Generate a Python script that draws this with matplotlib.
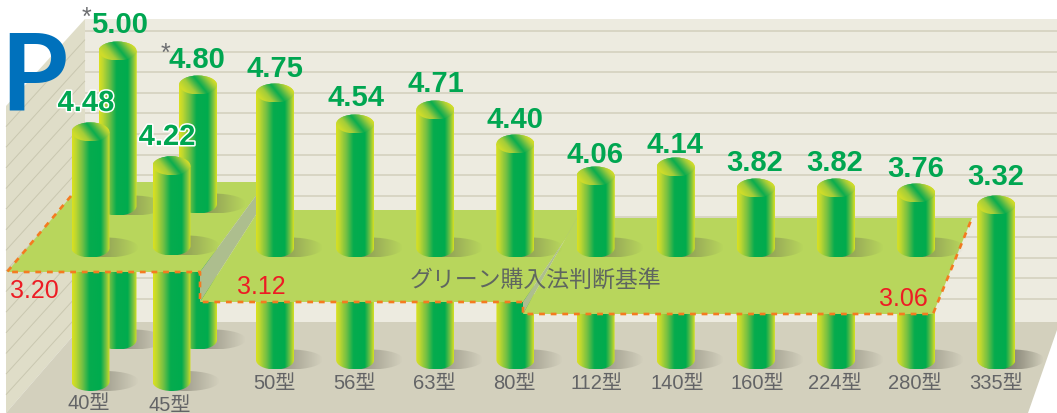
import numpy as np
import matplotlib
matplotlib.use("Agg")
import matplotlib.pyplot as plt
from matplotlib.colors import LinearSegmentedColormap, to_rgb
from matplotlib.patches import Polygon, Ellipse, PathPatch
from matplotlib.path import Path
import matplotlib.patheffects as pe

plt.rcParams['font.family'] = ['Liberation Sans', 'Noto Sans CJK JP', 'DejaVu Sans']

# ---------- data ----------
categories = ['40型', '45型', '50型', '56型', '63型', '80型', '112型', '140型', '160型', '224型', '280型', '335型']
values = [4.48, 4.22, 4.75, 4.54, 4.71, 4.40, 4.06, 4.14, 3.82, 3.82, 3.76, 3.32]
rear_categories = ['40型(*)', '45型(*)']
rear_values = [5.00, 4.80]
criteria_values = ['3.20', '3.12', '3.06']
criteria_label = 'グリーン購入法判断基準'
panel_letter = 'P'

# ---------- layout (pixel space) ----------
W, H = 1057, 413
fig = plt.figure(figsize=(W / 100, H / 100), dpi=100)
ax = fig.add_axes([0, 0, 1, 1])
ax.set_axis_off()

# the picture's vertical scale is not linear and differs per row
main_scale_v = [3.32, 3.76, 3.82, 4.06, 4.14, 4.40, 4.54, 4.71, 4.75]
main_scale_h = [155, 167, 172, 184, 193, 216, 236, 250, 267]
def h_main(v):
    return float(np.interp(v, main_scale_v, main_scale_h))
def h_front(v):
    return 130 * (v - 2.56)
def h_rear(v):
    return 170 * (v - 3.30)

cmap_body = LinearSegmentedColormap.from_list('body', [
    (0.00, '#dbe11f'), (0.10, '#bcd631'), (0.28, '#6fbf44'), (0.46, '#06ac4e'),
    (0.76, '#00ab4e'), (0.90, '#74c043'), (1.00, '#d6df23')])
cmap_top = LinearSegmentedColormap.from_list('top', [
    (0.00, '#cfdc2a'), (0.25, '#a4cd39'), (0.45, '#3fb54a'), (0.56, '#0aad4e'),
    (0.68, '#3fb54a'), (0.88, '#a4cd39'), (1.00, '#cfdc2a')])

z = [5.0]
def nz():
    z[0] += 0.01
    return z[0]

def grad_image(xmin, xmax, ymin, ymax, rgba, clip, zorder):
    im = ax.imshow(rgba, extent=(xmin, xmax, ymax, ymin), origin='upper', aspect='auto',
                   zorder=zorder, interpolation='bilinear')
    im.set_clip_path(clip)

def shadow(cx, cy, base_z):
    rx, ry = 33, 10
    ccx = cx + 15
    e = Ellipse((ccx, cy), 2 * rx, 2 * ry, transform=ax.transData)
    n = 80
    arr = np.zeros((4, n, 4))
    arr[..., :3] = to_rgb('#5e5c50')
    arr[..., 3] = np.clip(1 - np.linspace(0, 1, n) ** 0.9, 0, 1)[None, :] * 0.85
    e.set_facecolor('none')
    e.set_edgecolor('none')
    ax.add_patch(e)
    grad_image(ccx - rx, ccx + rx, cy - ry, cy + ry, arr, e, base_z)

def cylinder(cx, y_top, y_bottom, ry=9.5):
    """Cylinder whose top-ellipse centre is y_top and bottom-ellipse centre is y_bottom."""
    r = 19
    x0, x1 = cx - r, cx + r
    zb = nz()
    shadow(cx, y_bottom - 0.5, zb)
    k = 0.5522847
    verts = [(x0, y_top), (x1, y_top), (x1, y_bottom),
             (x1, y_bottom + ry * k), (cx + r * k, y_bottom + ry), (cx, y_bottom + ry),
             (cx - r * k, y_bottom + ry), (x0, y_bottom + ry * k), (x0, y_bottom), (x0, y_top)]
    codes = [Path.MOVETO, Path.LINETO, Path.LINETO, Path.CURVE4, Path.CURVE4, Path.CURVE4,
             Path.CURVE4, Path.CURVE4, Path.CURVE4, Path.CLOSEPOLY]
    body = PathPatch(Path(verts, codes), fc='none', ec='none')
    ax.add_patch(body)
    grad = cmap_body(np.linspace(0, 1, 120))[None, :, :]
    grad_image(x0, x1, y_top, y_bottom + ry, grad, body, nz())
    # top cap with a slanted gradient
    cap = Ellipse((cx, y_top), 2 * r, 2 * ry, fc='none', ec='none')
    ax.add_patch(cap)
    xx, yy = np.meshgrid(np.linspace(0, 1, 80), np.linspace(-1, 1, 40))
    u = np.clip(xx - 0.2 * yy, 0, 1)
    grad_image(x0, x1, y_top - ry, y_top + ry, cmap_top(u), cap, nz())

# ---------- background ----------
ax.add_patch(Polygon([(85, 19), (W, 19), (W, 322), (85, 322)], fc='#edebe0', ec='none', zorder=1))
grid_y = [31 + 20.62 * i for i in range(14)]
for y in grid_y:
    ax.plot([85, W], [y, y], color='#d6d3c2', lw=1.3, zorder=1.5, solid_capstyle='butt')
ax.add_patch(Polygon([(85, 19), (6, 106), (6, 413), (85, 322)], fc='#dfddc8', ec='none', zorder=1.6))
for y in [19 + 20.62 * i for i in range(1, 15)]:
    ax.plot([85, 6], [y, y + 87], color='#c9c7b0', lw=0.7, zorder=1.7, solid_capstyle='butt')
ax.add_patch(Polygon([(6, 413), (85, 322), (W, 322), (W, 330), (1028, 413)], fc='#d3d0bd', ec='none', zorder=2))

# ---------- cylinders ----------
rear_x = [117.5, 198]
front_x = [90.5, 171.5]
main_x = [275 + 80.15 * i for i in range(10)]
REAR_FLOOR, FRONT_FLOOR, MAIN_FLOOR = 340, 381.5, 360
REAR_UP, FRONT_UP, MAIN_UP = [206, 204], [248, 246], 248

# full-length columns standing on the floor
for cx, v in zip(rear_x, rear_values):
    cylinder(cx, REAR_FLOOR - h_rear(v), REAR_FLOOR)
for cx, v in zip(front_x, values[:2]):
    cylinder(cx, FRONT_FLOOR - h_front(v), FRONT_FLOOR)
for cx, v in zip(main_x, values[2:]):
    cylinder(cx, MAIN_FLOOR - h_main(v), MAIN_FLOOR)

# ---------- criteria plane ----------
PZ = 6.0
GREEN, FOLD = '#b8d65c', '#adbe8e'
ax.add_patch(Polygon([(7, 272), (83, 182), (266, 182), (200, 272)], fc=GREEN, ec='none', zorder=PZ))
ax.add_patch(Polygon([(266, 182), (200, 272), (200, 302), (259, 210)], fc=FOLD, ec='none', zorder=PZ + .01))
ax.add_patch(Polygon([(200, 302), (259, 210), (585, 210), (523, 302)], fc=GREEN, ec='none', zorder=PZ + .02))
ax.add_patch(Polygon([(523, 302), (585, 210), (577, 218), (523, 314)], fc=FOLD, ec='none', zorder=PZ + .03))
ax.add_patch(Polygon([(523, 314), (577, 218), (972, 218), (933, 314)], fc=GREEN, ec='none', zorder=PZ + .04))
ax.plot([71, 7, 200, 200, 523, 523, 933, 972], [196, 272, 272, 302, 302, 314, 314, 218],
        color='#f47b20', lw=1.9, ls=(0, (2.2, 2.2)), zorder=PZ + .1, solid_joinstyle='miter')

# ---------- upper parts above the plane ----------
z[0] = 7.0
for cx, v, yb in zip(rear_x, rear_values, REAR_UP):
    cylinder(cx, REAR_FLOOR - h_rear(v), yb)
for cx, v, yb in zip(front_x, values[:2], FRONT_UP):
    cylinder(cx, FRONT_FLOOR - h_front(v), yb)
for cx, v in zip(main_x[:-1], values[2:-1]):
    cylinder(cx, MAIN_FLOOR - h_main(v), MAIN_UP)
# the last column stands clear of the plane
cylinder(main_x[-1], MAIN_FLOOR - h_main(values[-1]), MAIN_FLOOR)

# ---------- text ----------
TZ = 20
val_col = '#00a651'
val_pos = [(86, 100), (167, 134), (275, 66), (356, 95), (436, 81), (515, 117),
           (595, 152), (675, 142), (755, 160), (835, 160), (916, 166), (996, 174)]
halo = {0, 1}
for i, (v, (x, y)) in enumerate(zip(values, val_pos)):
    t = ax.text(x, y, f'{v:.2f}', color=val_col, fontsize=21, fontweight='bold',
                ha='center', va='center_baseline', zorder=TZ)
    if i in halo:
        t.set_path_effects([pe.withStroke(linewidth=2.2, foreground='white')])
for v, (x, y) in zip(rear_values, [(120, 22), (197, 57)]):
    ax.text(x, y, f'{v:.2f}', color=val_col, fontsize=21, fontweight='bold',
            ha='center', va='center_baseline', zorder=TZ)
for x, y in [(86.5, 18), (165.5, 54)]:
    ax.text(x, y, '*', color='#6d6e71', fontsize=18, ha='center', va='center', zorder=TZ)

cat_pos = [(89, 402), (170, 403), (274, 382), (354, 382), (434, 382), (514, 381),
           (597, 381), (677, 381), (757, 381), (835, 382), (915, 382), (996, 382)]
for c, (x, y) in zip(categories, cat_pos):
    ax.text(x, y, c, color='#636466', fontsize=14.5, ha='center', va='center_baseline', zorder=TZ)

for s, (x, y) in zip(criteria_values, [(34, 288), (261, 284), (903, 297)]):
    ax.text(x, y, s, color='#ed1c24', fontsize=18, ha='center', va='center_baseline', zorder=TZ)
ax.text(535, 280, criteria_label, color='#5f6660', fontsize=16.5, ha='center', va='center',
        family=['Noto Sans CJK JP', 'DejaVu Sans'], zorder=TZ)

ax.text(0, 109, panel_letter, color='#0071bc', fontsize=78, fontweight='bold', family='Lato',
        ha='left', va='baseline', zorder=TZ)

ax.set_xlim(0, W)
ax.set_ylim(H, 0)
fig.savefig('out.png', dpi=100, facecolor='white')
